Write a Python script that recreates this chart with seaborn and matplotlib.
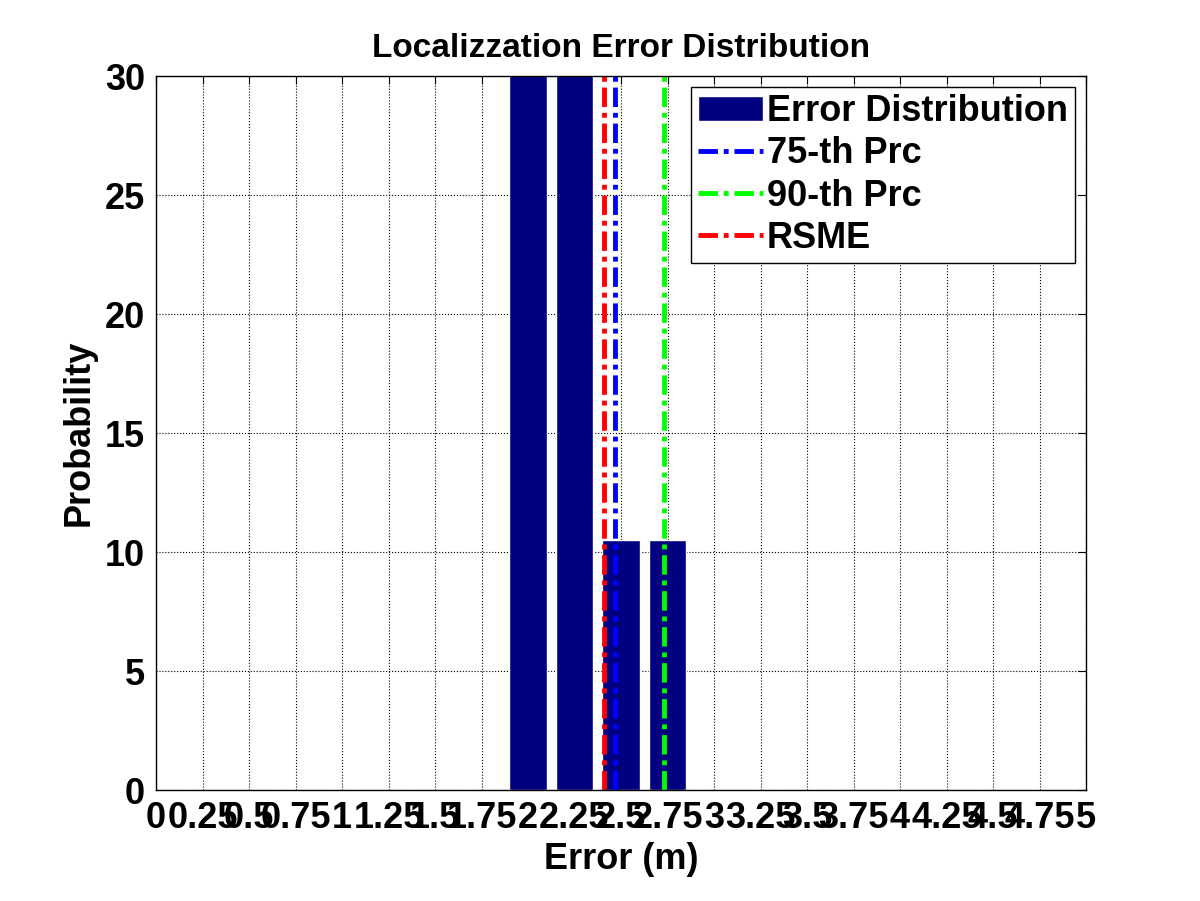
import numpy as np
import pandas as pd
import matplotlib
matplotlib.use("Agg")
from matplotlib import pyplot as plt
import seaborn as sb

# data
bin_centers = [2.0, 2.25, 2.5, 2.75]
probability = [31.6, 31.6, 10.5, 10.5]
prc75 = 2.47
prc90 = 2.73
rsme = 2.41
xticks = [0, 0.25, 0.5, 0.75, 1, 1.25, 1.5, 1.75, 2, 2.25, 2.5, 2.75,
          3, 3.25, 3.5, 3.75, 4, 4.25, 4.5, 4.75, 5]
xtick_labels = ['0', '0.25', '0.5', '0.75', '1', '1.25', '1.5', '1.75', '2', '2.25', '2.5',
                '2.75', '3', '3.25', '3.5', '3.75', '4', '4.25', '4.5', '4.75', '5']

sb.set_style('white')
plt.rcParams['font.family'] = ['Liberation Sans', 'DejaVu Sans']
plt.rcParams['font.weight'] = 'bold'
plt.rcParams['text.color'] = 'black'
plt.rcParams['axes.labelcolor'] = 'black'
plt.rcParams['xtick.color'] = 'black'
plt.rcParams['ytick.color'] = 'black'

df = pd.DataFrame({'err': bin_centers, 'prob': probability})

fig = plt.figure(figsize=(12, 9.01), dpi=100)
ax = fig.add_axes([0.13, 0.123, 0.775, 0.7926])

sb.barplot(data=df, x='err', y='prob', native_scale=True, width=0.8,
           color='#000080', saturation=1, ax=ax, label='Error Distribution')
dash = (4, 1.2, 1, 1.2)
ax.plot([prc75, prc75], [0, 30], color='#0000ff', lw=3.5, dashes=dash, label='75-th Prc')
ax.plot([prc90, prc90], [0, 30], color='#00ff00', lw=3.5, dashes=dash, label='90-th Prc')
ax.plot([rsme, rsme], [0, 30], color='#ff0000', lw=3.5, dashes=dash, label='RSME')

ax.set_xlim(0, 5)
ax.set_ylim(0, 30)
ax.set_xticks(xticks)
ax.set_xticklabels(xtick_labels)
ax.set_yticks(range(0, 31, 5))
ax.tick_params(labelsize=26, direction='in', length=6, top=True, right=True, pad=8)
for lab in ax.get_xticklabels() + ax.get_yticklabels():
    lab.set_fontweight('bold')
ax.grid(True, linestyle=':', color='black', linewidth=0.8)
for s in ax.spines.values():
    s.set_color('black')
    s.set_linewidth(1)

ax.set_xlabel('Error (m)', fontsize=26, fontweight='bold', labelpad=4)
ax.set_ylabel('Probability', fontsize=26, fontweight='bold', labelpad=6)
ax.set_title('Localizzation Error Distribution', fontsize=24, fontweight='bold', pad=14)

handles, labels = ax.get_legend_handles_labels()
order = [labels.index(l) for l in ['Error Distribution', '75-th Prc', '90-th Prc', 'RSME']]
leg = ax.legend([handles[i] for i in order], [labels[i] for i in order],
                loc='upper right', fontsize=26, fancybox=False, framealpha=1,
                edgecolor='black', borderaxespad=0.3, handlelength=1.8,
                handletextpad=0.1, labelspacing=0.2, borderpad=0.2)
for t in leg.get_texts():
    t.set_fontweight('bold')

fig.savefig('out.png', dpi=100)
